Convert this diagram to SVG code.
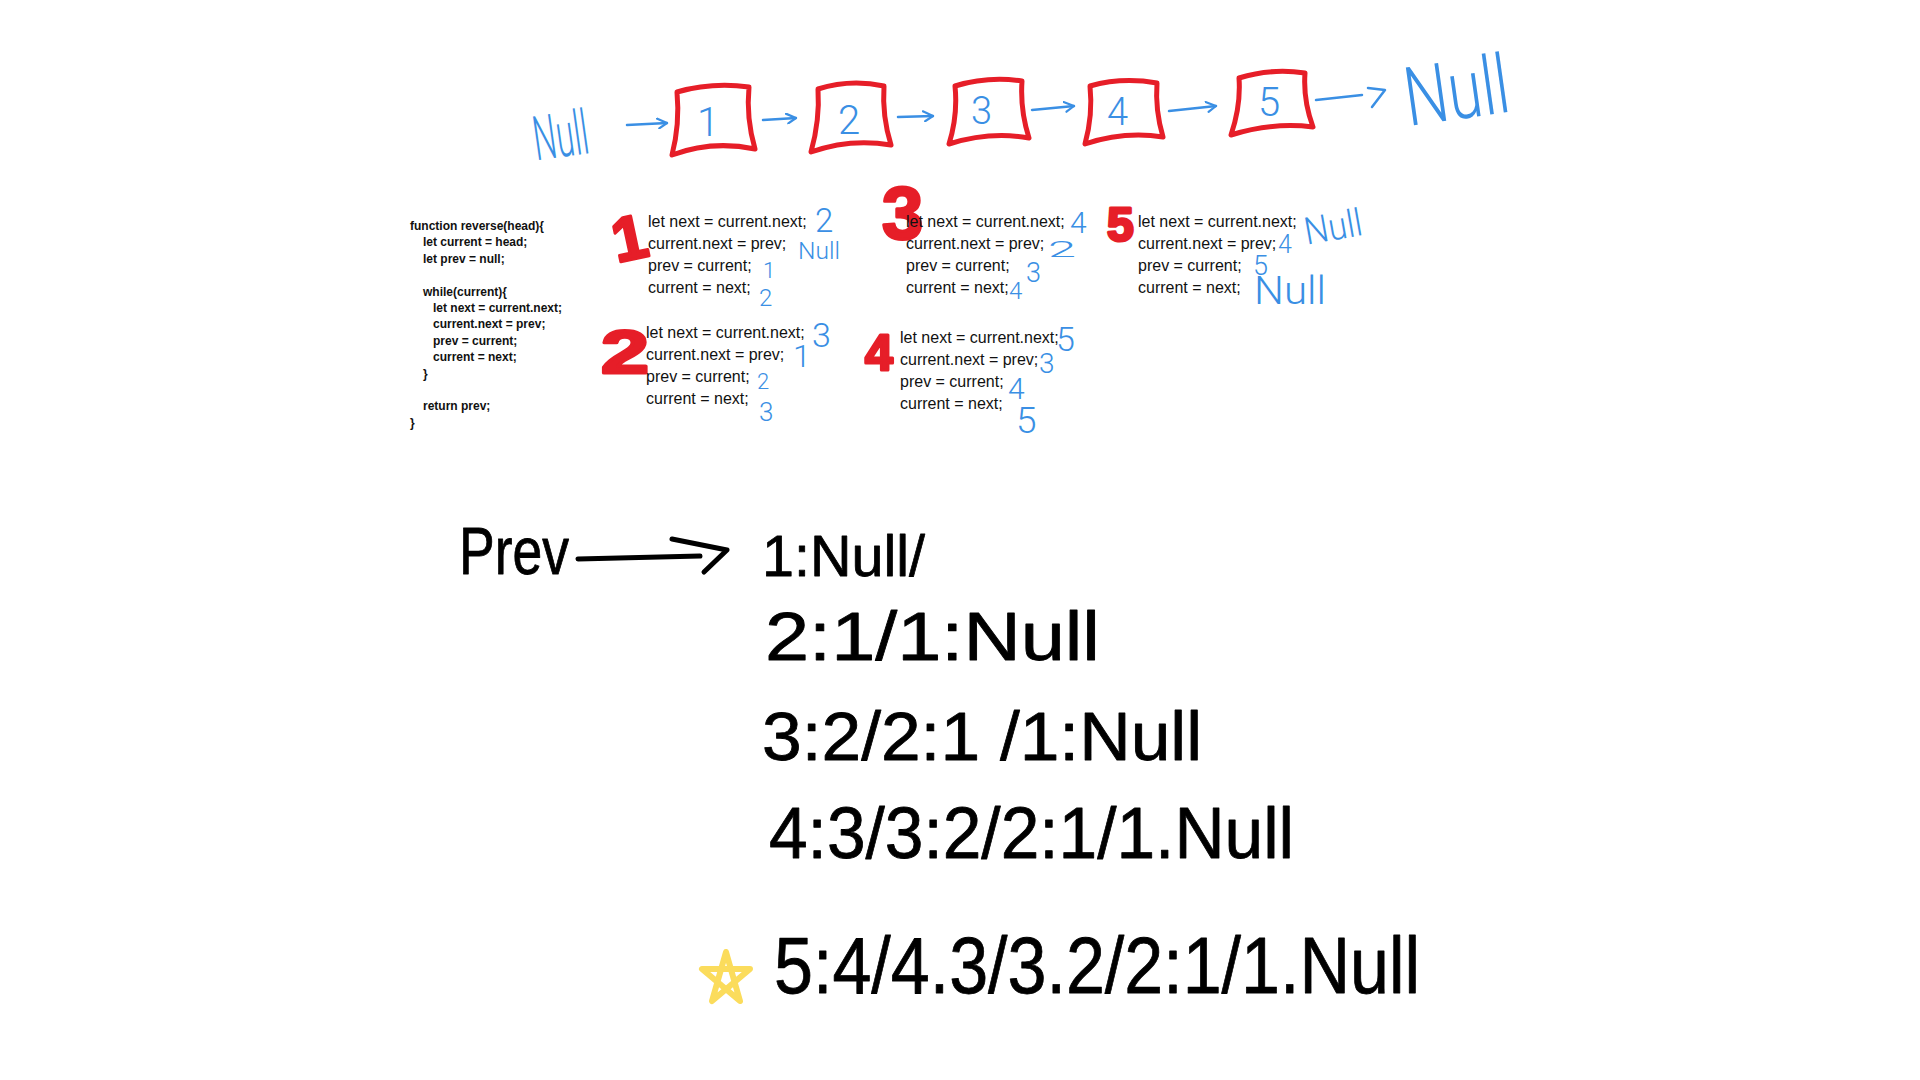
<svg xmlns="http://www.w3.org/2000/svg" width="1920" height="1080" viewBox="0 0 1920 1080">
<style>
.code{font-family:"Liberation Sans",Arial,sans-serif;font-size:12px;font-weight:bold;fill:#111}
.blk{font-family:"Liberation Sans",Arial,sans-serif;font-size:16px;fill:#111}
.blue{font-family:Roboto,"Liberation Sans",Arial,sans-serif;font-weight:300;fill:#3a8fe4}
.red{font-family:"Liberation Sans",Arial,sans-serif;font-weight:bold;fill:#e61e28;stroke:#e61e28;stroke-width:3;stroke-linejoin:round}
.hand{font-family:"Liberation Sans",Arial,sans-serif;fill:#000;stroke:#000;stroke-width:0.8;stroke-linejoin:round}
.box{fill:none;stroke:#e61e28;stroke-width:5;stroke-linejoin:round}
.arr{fill:none;stroke:#3a8fe4;stroke-width:2.5;stroke-linecap:round;stroke-linejoin:round}
</style>
<defs>
<marker id="head" viewBox="0 0 12 12" refX="11" refY="6" markerWidth="12" markerHeight="12" markerUnits="userSpaceOnUse" orient="auto">
<path d="M1,1 L11,6 L3,11" fill="none" stroke="#3a8fe4" stroke-width="2.2" stroke-linecap="round" stroke-linejoin="round"/>
</marker>
</defs>
<rect width="1920" height="1080" fill="#fff"/>

<g id="null-left"><text class="blue" x="533" y="157" font-size="62" textLength="55" lengthAdjust="spacingAndGlyphs" transform="rotate(-8 560 135)">Null</text></g>

<g id="node1"><path class="box" d="M677,92 Q712,82 749,87 Q746,118 755,149 Q712,140 672,155 Q680,124 677,92 Z"/><text class="blue" x="697" y="136" font-size="40">1</text></g>
<g id="node2"><path class="box" d="M818,89 Q850,79 884,86 Q882,116 891,145 Q850,138 811,152 Q820,120 818,89 Z"/><text class="blue" x="838" y="134" font-size="40">2</text></g>
<g id="node3"><path class="box" d="M955,86 Q988,76 1022,81 Q1020,110 1029,138 Q990,131 949,144 Q958,115 955,86 Z"/><text class="blue" x="971" y="124" font-size="38">3</text></g>
<g id="node4"><path class="box" d="M1090,86 Q1122,77 1157,83 Q1155,110 1163,137 Q1124,131 1085,144 Q1093,115 1090,86 Z"/><text class="blue" x="1107" y="125" font-size="38">4</text></g>
<g id="node5"><path class="box" d="M1239,78 Q1271,68 1305,73 Q1303,100 1313,127 Q1272,122 1231,135 Q1241,106 1239,78 Z"/><text class="blue" x="1258" y="116" font-size="40">5</text></g>

<g id="null-right"><text class="blue" x="1404" y="119" font-size="82" textLength="105" lengthAdjust="spacingAndGlyphs" transform="rotate(-8 1456 90)">Null</text></g>

<g id="connectors">
<path class="arr" d="M627,125 L667,123" marker-end="url(#head)"/>
<path class="arr" d="M763,120 L796,118" marker-end="url(#head)"/>
<path class="arr" d="M898,117 L933,116" marker-end="url(#head)"/>
<path class="arr" d="M1032,110 L1074,106" marker-end="url(#head)"/>
<path class="arr" d="M1169,111 L1216,106" marker-end="url(#head)"/>
<path class="arr" d="M1316,100 L1362,95"/>
<path class="arr" d="M1368,88 L1385,90 L1372,107"/>
</g>

<g id="code">
<text class="code" x="410" y="230">function reverse(head){</text>
<text class="code" x="423" y="246">let current = head;</text>
<text class="code" x="423" y="263">let prev = null;</text>
<text class="code" x="423" y="296">while(current){</text>
<text class="code" x="433" y="312">let next = current.next;</text>
<text class="code" x="433" y="328">current.next = prev;</text>
<text class="code" x="433" y="345">prev = current;</text>
<text class="code" x="433" y="361">current = next;</text>
<text class="code" x="423" y="378">}</text>
<text class="code" x="423" y="410">return prev;</text>
<text class="code" x="410" y="427">}</text>
</g>

<g id="step1">
<text class="red" x="612" y="260" font-size="62" transform="rotate(-12 627 237)">1</text>
<text class="blk" x="648" y="227">let next = current.next;</text>
<text class="blk" x="648" y="249">current.next = prev;</text>
<text class="blk" x="648" y="271">prev = current;</text>
<text class="blk" x="648" y="293">current = next;</text>
<text class="blue" x="815" y="232" font-size="33">2</text>
<text class="blue" x="798" y="259" font-size="23" textLength="42" lengthAdjust="spacingAndGlyphs">Null</text>
<text class="blue" x="763" y="278" font-size="22">1</text>
<text class="blue" x="759" y="306" font-size="24">2</text>
</g>

<g id="step2">
<text class="red" x="601" y="373" font-size="62" textLength="48" lengthAdjust="spacingAndGlyphs">2</text>
<text class="blk" x="646" y="338">let next = current.next;</text>
<text class="blk" x="646" y="360">current.next = prev;</text>
<text class="blk" x="646" y="382">prev = current;</text>
<text class="blk" x="646" y="404">current = next;</text>
<text class="blue" x="812" y="347" font-size="34">3</text>
<text class="blue" x="793" y="367" font-size="32">1</text>
<text class="blue" x="757" y="389" font-size="22">2</text>
<text class="blue" x="759" y="421" font-size="26">3</text>
</g>

<g id="step3">
<text class="red" x="882" y="239" font-size="74">3</text>
<text class="blk" x="906" y="227">let next = current.next;</text>
<text class="blk" x="906" y="249">current.next = prev;</text>
<text class="blk" x="906" y="271">prev = current;</text>
<text class="blk" x="906" y="293">current = next;</text>
<text class="blue" x="1070" y="233" font-size="30">4</text>
<text class="blue" x="1048" y="257" font-size="22" textLength="28" lengthAdjust="spacingAndGlyphs">2</text>
<text class="blue" x="1026" y="282" font-size="27">3</text>
<text class="blue" x="1009" y="299" font-size="24">4</text>
</g>

<g id="step4">
<text class="red" x="865" y="370" font-size="50">4</text>
<text class="blk" x="900" y="343">let next = current.next;</text>
<text class="blk" x="900" y="365">current.next = prev;</text>
<text class="blk" x="900" y="387">prev = current;</text>
<text class="blk" x="900" y="409">current = next;</text>
<text class="blue" x="1056" y="351" font-size="34">5</text>
<text class="blue" x="1039" y="373" font-size="28">3</text>
<text class="blue" x="1008" y="399" font-size="30">4</text>
<text class="blue" x="1016" y="433" font-size="37">5</text>
</g>

<g id="step5">
<text class="red" x="1107" y="241" font-size="48">5</text>
<text class="blk" x="1138" y="227">let next = current.next;</text>
<text class="blk" x="1138" y="249">current.next = prev;</text>
<text class="blk" x="1138" y="271">prev = current;</text>
<text class="blk" x="1138" y="293">current = next;</text>
<text class="blue" x="1304" y="240" font-size="38" textLength="58" lengthAdjust="spacingAndGlyphs" transform="rotate(-10 1333 226)">Null</text>
<text class="blue" x="1278" y="253" font-size="25">4</text>
<text class="blue" x="1253" y="275" font-size="27">5</text>
<text class="blue" x="1254" y="304" font-size="39" textLength="72" lengthAdjust="spacingAndGlyphs">Null</text>
</g>

<g id="prev-label">
<text class="hand" x="459" y="574" font-size="66" textLength="110" lengthAdjust="spacingAndGlyphs">Prev</text>
</g>
<g id="prev-arrow">
<path d="M578,559 L700,556" fill="none" stroke="#000" stroke-width="5" stroke-linecap="round"/>
<path d="M672,539 L727,550 L704,572" fill="none" stroke="#000" stroke-width="5" stroke-linecap="round" stroke-linejoin="round"/>
</g>

<g id="states">
<text class="hand" x="762" y="576" font-size="58" textLength="163" lengthAdjust="spacingAndGlyphs">1:Null/</text>
<text class="hand" x="765" y="660" font-size="68" textLength="335" lengthAdjust="spacingAndGlyphs">2:1/1:Null</text>
<text class="hand" x="762" y="760" font-size="68" textLength="440" lengthAdjust="spacingAndGlyphs">3:2/2:1 /1:Null</text>
<text class="hand" x="769" y="858" font-size="72" textLength="525" lengthAdjust="spacingAndGlyphs">4:3/3:2/2:1/1.Null</text>
<text class="hand" x="774" y="993" font-size="80" textLength="646" lengthAdjust="spacingAndGlyphs">5:4/4.3/3.2/2:1/1.Null</text>
</g>

<g id="star">
<path d="M726,952 L740,1001 L702,969 L750,969 L712,1001 Z" fill="none" stroke="#fbdc5c" stroke-width="6" stroke-linejoin="round" stroke-linecap="round"/>
</g>
</svg>
